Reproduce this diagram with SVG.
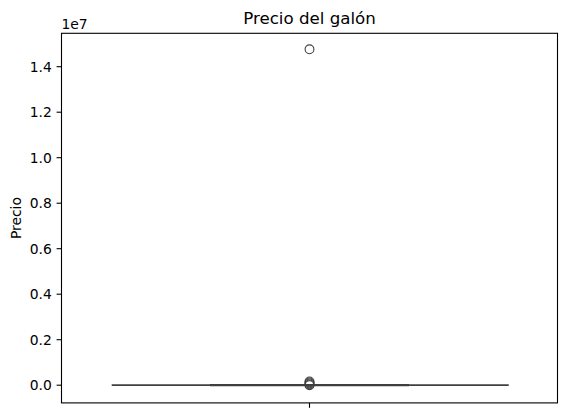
<svg xmlns="http://www.w3.org/2000/svg" width="567" height="417" viewBox="0 0 567 417">
<style>
.t{font-family:"DejaVu Sans",sans-serif;fill:#000}
.tk{font-size:13.89px;text-anchor:end}
.ax{stroke:#000;stroke-width:1.1;fill:none}
.bx{stroke:#3f3f3f;fill:none}
.fl{fill:none;stroke:#3f3f3f;stroke-width:1.1}
</style>
<rect width="567" height="417" fill="#fff"/>
<g id="title"><text class="t" x="309.5" y="24" font-size="16.67" text-anchor="middle">Precio del galón</text></g>
<g id="yaxis">
<g stroke="#000" stroke-width="1.1">
<line x1="56.6" y1="385.2" x2="61.5" y2="385.2"/>
<line x1="56.6" y1="339.7" x2="61.5" y2="339.7"/>
<line x1="56.6" y1="294.2" x2="61.5" y2="294.2"/>
<line x1="56.6" y1="248.7" x2="61.5" y2="248.7"/>
<line x1="56.6" y1="203.2" x2="61.5" y2="203.2"/>
<line x1="56.6" y1="157.7" x2="61.5" y2="157.7"/>
<line x1="56.6" y1="112.2" x2="61.5" y2="112.2"/>
<line x1="56.6" y1="66.7" x2="61.5" y2="66.7"/>
<line x1="309.5" y1="402.9" x2="309.5" y2="407.8"/>
</g>
<text class="t tk" x="51.8" y="390.2">0.0</text>
<text class="t tk" x="51.8" y="344.7">0.2</text>
<text class="t tk" x="51.8" y="299.2">0.4</text>
<text class="t tk" x="51.8" y="253.7">0.6</text>
<text class="t tk" x="51.8" y="208.2">0.8</text>
<text class="t tk" x="51.8" y="162.7">1.0</text>
<text class="t tk" x="51.8" y="117.2">1.2</text>
<text class="t tk" x="51.8" y="71.7">1.4</text>
<text class="t" x="61.5" y="29.3" font-size="13.89">1e7</text>
<text class="t" transform="translate(20.5,218.1) rotate(-90)" font-size="13.89" text-anchor="middle">Precio</text>
</g>
<g id="boxplot">
<line class="bx" x1="111.7" y1="385.2" x2="508.7" y2="385.2" stroke-width="1.8" stroke="#555"/>
<line class="bx" x1="210" y1="385.2" x2="409" y2="385.2" stroke-width="2.2"/>
<circle class="fl" cx="309.5" cy="49.3" r="4.4"/>
<circle class="fl" cx="309.5" cy="381.4" r="4.4" stroke-width="1.8"/>
<circle class="fl" cx="309.5" cy="382.4" r="4.4" stroke-width="1.8"/>
<circle class="fl" cx="309.5" cy="383.4" r="4.4" stroke-width="1.8"/>
<circle class="fl" cx="309.5" cy="384.4" r="4.4" stroke-width="1.8"/>
<circle class="fl" cx="309.5" cy="385.2" r="4.4" stroke-width="1.8"/>
</g>
<g id="frame"><rect class="ax" x="61.5" y="33.3" width="496" height="369.6"/></g>
</svg>
